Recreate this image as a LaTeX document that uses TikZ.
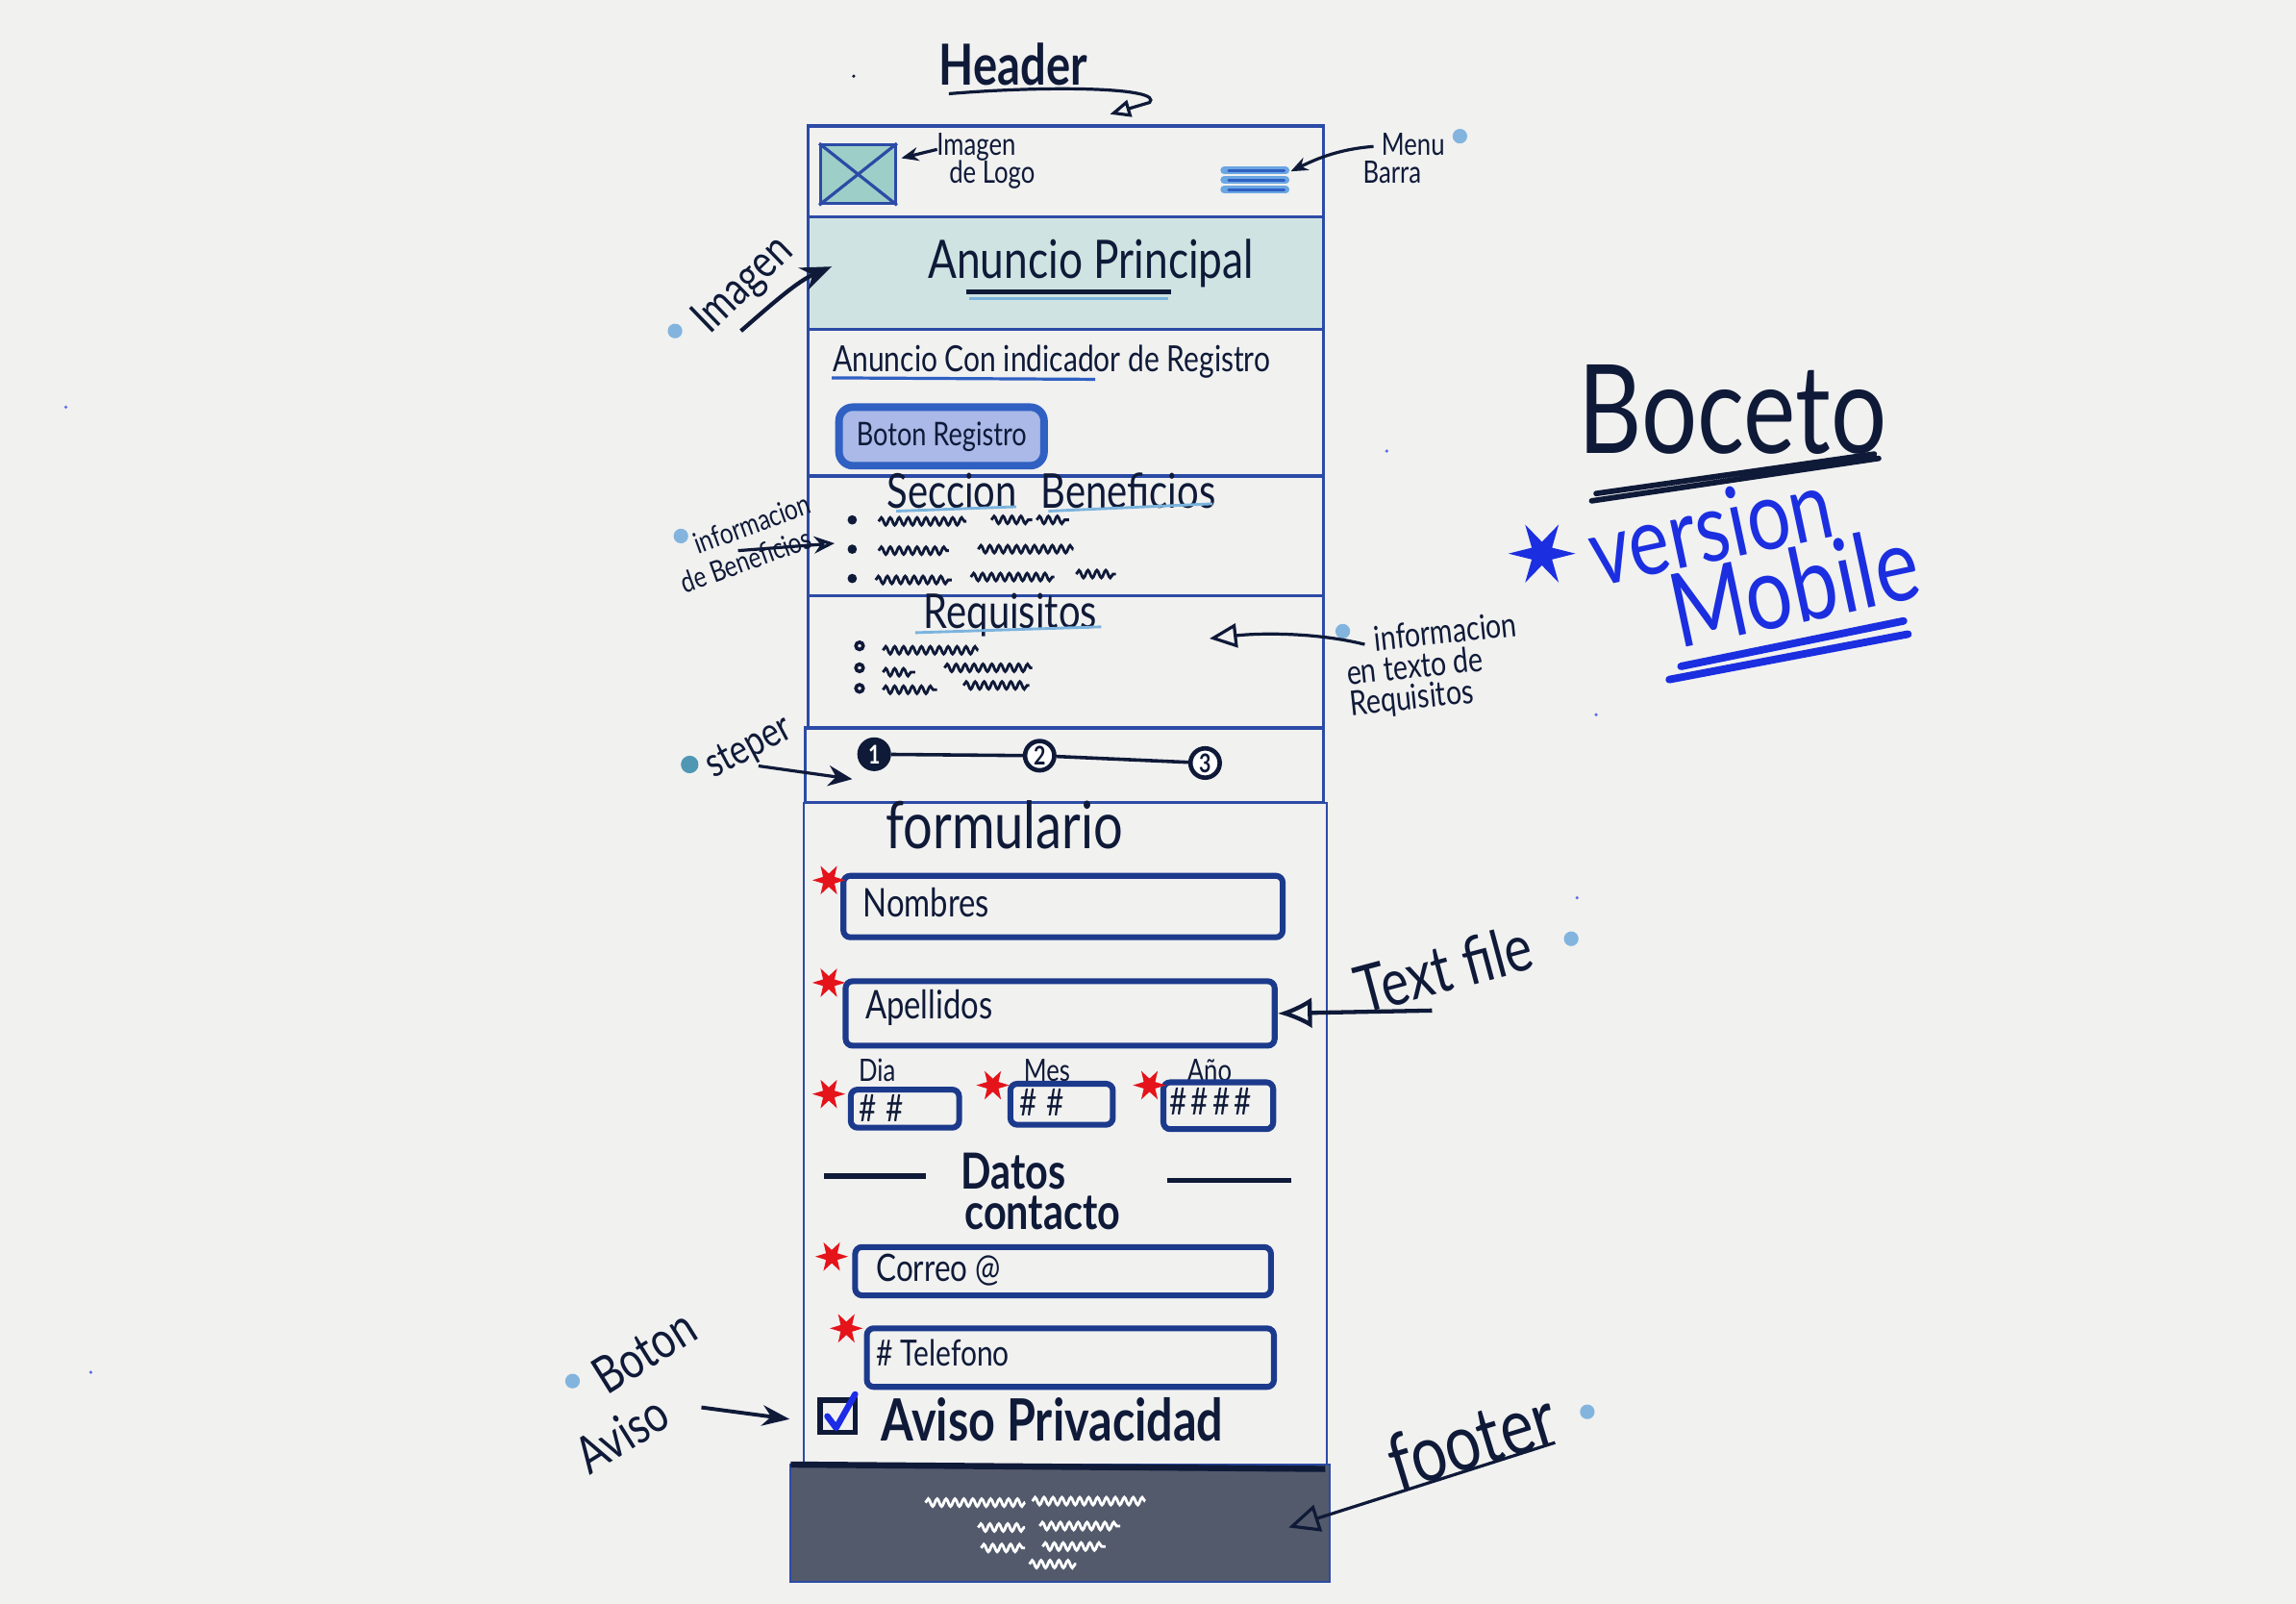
\documentclass[tikz,border=0pt]{standalone}
\usepackage{fontspec}
\setmainfont{Lato}[FakeStretch=0.8]
\usetikzlibrary{arrows.meta,decorations.pathmorphing,shapes.geometric}
\definecolor{paper}{HTML}{F1F1F0}
\definecolor{ink}{HTML}{0F1A38}
\definecolor{frame}{HTML}{2C4BA6}
\definecolor{fieldblue}{HTML}{1C3A8C}
\definecolor{bannerfill}{HTML}{CFE4E2}
\definecolor{logofill}{HTML}{9DCFC8}
\definecolor{btnfill}{HTML}{AAB9E7}
\definecolor{btnblue}{HTML}{3060C2}
\definecolor{ulblue}{HTML}{7BB4DE}
\definecolor{menublue}{HTML}{6AA6E2}
\definecolor{astred}{HTML}{E4141A}
\definecolor{footfill}{HTML}{535A6B}
\definecolor{vblue}{HTML}{1B2FE0}
\definecolor{dotblue}{HTML}{82B4DE}
\definecolor{dotteal}{HTML}{4F97B3}
\definecolor{checkblue}{HTML}{1C2CE6}
\newcommand\fsz[1]{\fontsize{#1}{#1}\selectfont}

\begin{document}
\begin{tikzpicture}[x=0.15mm, y=-0.15mm,
  wh/.style 2 args={minimum width=#1*0.15mm, minimum height=#2*0.15mm},
  sec/.style={draw=frame, line width=0.9pt, anchor=north west, inner sep=0pt, outer sep=0pt},
  txt/.style={text=ink, inner sep=1pt},
  field/.style={draw=fieldblue, line width=1.7pt, rounded corners=2pt, inner sep=0pt},
  ftxt/.style={text=ink, anchor=west, inner sep=0pt},
  ast/.style={star, star points=6, star point ratio=0.4, fill=astred, inner sep=0pt, minimum size=9*0.15mm},
  annodot/.style={circle, fill=dotblue, inner sep=0pt, minimum size=10*0.15mm},
  ann/.style={draw=ink, line width=0.9pt},
  scrib/.style={draw=ink, line width=0.8pt, decorate, decoration={snake, amplitude=1.1pt, segment length=2.6pt}},
  wscrib/.style={scrib, draw=white},
  stepdot/.style={circle, draw=ink, line width=1.3pt, minimum size=20*0.15mm, inner sep=0pt, font=\bfseries\fsz{7.5}},
]
\useasboundingbox (0,0) rectangle (1568,1095);
\fill[paper] (0,0) rectangle (1568,1095);

% ---------- phone frame sections ----------
\node[sec, wh={352}{62}] (header) at (552,86) {};
\node[sec, fill=bannerfill, wh={352}{77}] (banner) at (552,148) {};
\node[sec, wh={352}{100}] (reg) at (552,225) {};
\node[sec, wh={352}{82}] (benef) at (552,325) {};
\node[sec, wh={352}{90}] (req) at (552,407) {};
\node[sec, wh={354}{51}] (stepbox) at (550,497) {};
\node[sec, line width=0.6pt, wh={357}{452}] (form) at (549,548) {};
\node[sec, line width=0.6pt, fill=footfill, wh={368}{80}] (footer) at (540,1000) {};
\draw[ink, line width=1.8pt] (footer.north west) -- ([shift={(-3,3)}]footer.north east);

% ---------- header ----------
\node[draw=frame, line width=0.9pt, fill=logofill, wh={51}{40}, inner sep=0pt] (logo) at (586,119) {};
\draw[frame, line width=0.9pt] (logo.north west) -- (logo.south east) (logo.north east) -- (logo.south west);
\node[wh={44}{22}, inner sep=0pt] (menu) at (857,123) {};
\foreach \dy in {-6.5,0,6.5} {
  \draw[menublue, line width=2.2pt, line cap=round] ([shift={(-21,\dy)}]menu.center) -- ([shift={(21,\dy)}]menu.center);
  \draw[btnblue, line width=0.8pt, line cap=round] ([shift={(-18,\dy)}]menu.center) -- ([shift={(20,\dy)}]menu.center);
}

% ---------- banner ----------
\node[txt, font=\fsz{15.5}] (aptxt) at (745,180) {Anuncio Principal};
\draw[ink, line width=1.4pt] (660,199) -- (800,199);
\draw[ulblue, line width=0.8pt] (662,204) -- (798,204);

% ---------- registration teaser ----------
\node[txt, font=\fsz{10.5}, anchor=west] (regtxt) at (566,247) {Anuncio Con indicador de Registro};
\draw[btnblue, line width=0.9pt] (568,258) -- (748,259);
\node[draw=btnblue, line width=2.2pt, fill=btnfill, rounded corners=4pt, wh={140}{40}, inner sep=0pt, font=\fsz{9.5}, text=ink] (btn) at (643,298) {Boton Registro};

% ---------- benefits ----------
\node[txt, font=\fsz{14}] (bentitle) at (718,335) {Seccion\hspace{0.5em}Beneficios};
\draw[ulblue, line width=0.8pt] (612,349) -- (694,346) (716,349) -- (828,344);
\foreach \y in {355,375,395} \fill[ink] (582,\y) circle (3.2);
\foreach \xa/\xb/\yy in {600/660/356, 677/705/355, 708/730/355, 600/648/376, 668/733/375, 598/650/396, 663/720/394, 735/762/392}
  \draw[scrib] (\xa,\yy) -- (\xb,\yy);

% ---------- requirements ----------
\node[txt, font=\fsz{14}] (reqtitle) at (690,420) {Requisitos};
\draw[ulblue, line width=0.8pt] (625,432) -- (752,428);
\foreach \y in {441,456,470} \draw[ink, line width=1pt] (587,\y) circle (2.5);
\foreach \xa/\xb/\yy in {603/668/444, 603/625/459, 645/705/456, 603/640/471, 658/703/468}
  \draw[scrib] (\xa,\yy) -- (\xb,\yy);

% ---------- stepper ----------
\node[stepdot, fill=ink, text=white] (s1) at (597,515) {1};
\node[stepdot, fill=white, text=ink] (s2) at (710,516) {2};
\node[stepdot, fill=white, text=ink] (s3) at (823,521) {3};
\draw[ink, line width=1pt] (s1) -- (s2) (s2) -- (s3);

% ---------- form ----------
\node[txt, font=\fsz{19}] (formtitle) at (686,563) {formulario};

\node[field, wh={300}{42}] (nom) at (726,619) {};
\node[ftxt, font=\fsz{11.5}] (nomtxt) at ([shift={(15,-3)}]nom.west) {Nombres};
\node[ast] (nomast) at (566,601) {};

\node[field, wh={293}{44}] (ape) at (724,692) {};
\node[ftxt, font=\fsz{11.5}] (apetxt) at ([shift={(15,-4)}]ape.west) {Apellidos};
\node[ast] (apeast) at (566,671) {};

\node[txt, font=\fsz{9}] (dialbl) at (599,731) {Dia};
\node[txt, font=\fsz{9}] (meslbl) at (715,731) {Mes};
\node[txt, font=\fsz{9}] (aniolbl) at (826,731) {Año};
\node[field, wh={74}{26}] (dia) at (618,757) {};
\node[field, wh={70}{28}] (mes) at (725,754) {};
\node[field, wh={75}{32}] (anio) at (832,755) {};
\node[ftxt, font=\fsz{11}] (diatxt) at ([shift={(7,0)}]dia.west) {\#\hspace{.25em}\#};
\node[ftxt, font=\fsz{11}] (mestxt) at ([shift={(8,-1)}]mes.west) {\#\hspace{.25em}\#};
\node[ftxt, font=\fsz{11}] (aniotxt) at ([shift={(6,-3)}]anio.west) {\#\hspace{.1em}\#\hspace{.1em}\#\hspace{.1em}\#};
\node[ast] (diaast) at (566,747) {};
\node[ast] (mesast) at (678,741) {};
\node[ast] (anioast) at (785,741) {};

\node[txt, font=\bfseries\fsz{14.5}] (datos) at (692,800) {Datos};
\node[txt, font=\bfseries\fsz{14.5}] (contacto) at (712,828) {contacto};
\draw[ink, line width=1.5pt] (563,803) -- (632,803) (797,806) -- (882,806);

\node[field, wh={284}{33}] (correo) at (726,868) {};
\node[ftxt, font=\fsz{11}] (correotxt) at ([shift={(16,-1)}]correo.west) {Correo @};
\node[ast] (correoast) at (568,858) {};

\node[field, wh={278}{40}] (tel) at (731,927) {};
\node[ftxt, font=\fsz{10.5}] (teltxt) at ([shift={(8,-3)}]tel.west) {\# Telefono};
\node[ast] (telast) at (578,907) {};

\node[draw=ink, line width=1.5pt, wh={24}{22}, inner sep=0pt] (chk) at (572,967) {};
\draw[checkblue, line width=1.8pt, line cap=round, line join=round]
  ([shift={(-7,0)}]chk.center) -- ([shift={(-1,8)}]chk.center) -- ([shift={(12,-15)}]chk.center);
\node[txt, font=\bfseries\fsz{17}, anchor=west] (aviso) at (599,969) {Aviso Privacidad};

% ---------- footer content ----------
\foreach \xa/\xb/\yy in {632/700/1026, 705/782/1025, 668/700/1043, 710/765/1042, 670/700/1057, 712/755/1056, 703/735/1068}
  \draw[wscrib] (\xa,\yy) -- (\xb,\yy);

% ---------- annotations ----------
\node[txt, font=\bfseries\fsz{16.5}] (hdrlbl) at (692,44) {Header};
\coordinate (hdrtip) at ([shift={(30,-8)}]header.north);
\draw[ann, -{Triangle[open, length=6pt, width=5pt]}] ([shift={(-44,20)}]hdrlbl.center)
  .. controls (720,58) and (795,60) .. (785,70) -- (hdrtip);

\node[txt, font=\fsz{9}, align=left, anchor=west] (logolbl) at (637,110) {Imagen\\[-1pt]\hspace*{0.4em}de Logo};
\draw[ann, -{Stealth[length=5pt, width=4pt]}] ([shift={(3,-8)}]logolbl.west) -- ([shift={(3,-11)}]logo.east);

\node[txt, font=\fsz{9}, align=left, anchor=west] (menulbl) at (928,108) {\hspace*{0.6em}Menu\\[-1pt]Barra};
\draw[ann, -{Stealth[length=5pt, width=4pt]}] ([shift={(10,-8)}]menulbl.west)
  .. controls (912,102) and (896,110) .. ([shift={(2,-6)}]menu.east);
\node[annodot] (menudot) at (997,93) {};

\node[txt, font=\fsz{13.5}, rotate=44] (imglbl) at (508,195) {Imagen};
\node[annodot] (imgdot) at (461,226) {};
\draw[ann, line width=1.2pt, -{Stealth[length=9pt, width=7pt]}] ([shift={(-2,31)}]imglbl.center)
  .. controls (530,205) and (545,192) .. ([shift={(16,34)}]banner.north west);

\node[txt, font=\fsz{8.5}, align=left, rotate=20] (benlbl) at (509,371) {\hspace*{0.9em}informacion\\[1pt]de Beneficios};
\node[annodot] (bendot) at (465,366) {};
\draw[ann, -{Stealth[length=6pt, width=5pt, open]}] ([shift={(-5,5)}]benlbl.center) -- ([shift={(18,5)}]benef.west);

\node[txt, font=\fsz{10}, align=left, rotate=6] (reqlbl) at (979,455) {\hspace*{0.9em}informacion\\[-1pt]en texto de\\[-1pt]Requisitos};
\node[annodot] (reqdot) at (917,431) {};
\draw[ann, -{Triangle[open, length=8pt, width=7pt]}] ([shift={(-47,-15)}]reqlbl.center)
  .. controls (900,432) and (862,432) .. ([shift={(98,-16)}]req.center);

\node[txt, font=\fsz{12}, rotate=28] (steplbl) at (512,511) {steper};
\node[annodot, fill=dotteal, minimum size=12*0.15mm] (stepdotlbl) at (471,522) {};
\draw[ann, -{Stealth[length=7pt, width=6pt]}] ([shift={(6,12)}]steplbl.center) -- ([shift={(-15,17)}]s1.center);

\node[txt, font=\fsz{19}, rotate=15] (tflbl) at (986,661) {Text file};
\node[annodot] (tfdot) at (1073,641) {};
\draw[ann, line width=1.2pt, -{Latex[open, length=10pt, width=9pt]}] ([shift={(-8,29)}]tflbl.center) -- (ape.east);

\node[txt, font=\fsz{15}, align=left, rotate=32] (avlbl) at (434,950) {\hspace*{1.1em}Boton\\[2pt]Aviso};
\node[annodot] (avdot) at (391,943) {};
\draw[ann, line width=1.1pt, -{Stealth[length=8pt, width=6pt]}] ([shift={(45,11)}]avlbl.center) -- ([shift={(-19,2)}]chk.west);

\node[txt, font=\fsz{23}, rotate=17] (ftlbl) at (1005,983) {footer};
\node[annodot] (ftdot) at (1084,964) {};
\draw[ann, -{Triangle[open, length=9pt, width=8pt]}] ([shift={(57,2)}]ftlbl.center) -- ([shift={(-28,3)}]footer.east);

% ---------- title ----------
\node[txt, font=\fsz{36}] (boceto) at (1183,280) {Boceto};
\draw[ink, line width=1.6pt, line cap=round] (1087,342) -- (1283,313) (1090,337) -- (1280,310);
\node[star, star points=6, star point ratio=0.35, fill=vblue, inner sep=0pt, minimum size=16*0.15mm] (vstar) at (1053,378) {};
\node[txt, text=vblue, font=\fsz{28}, rotate=12] (version) at (1168,360) {version};
\node[txt, text=vblue, font=\fsz{30}, rotate=12] (mobile) at (1225,400) {Mobile};
\draw[vblue, line width=2.2pt, line cap=round] (1148,455) -- (1300,424) (1140,464) -- (1303,433);

% ---------- specks on the paper ----------
\fill[ink] (583,52) circle (1.2);
\foreach \p in {(45,278),(62,937),(947,308),(1090,488),(1077,613)} \fill[vblue!70] \p circle (1.2);
\end{tikzpicture}
\end{document}
